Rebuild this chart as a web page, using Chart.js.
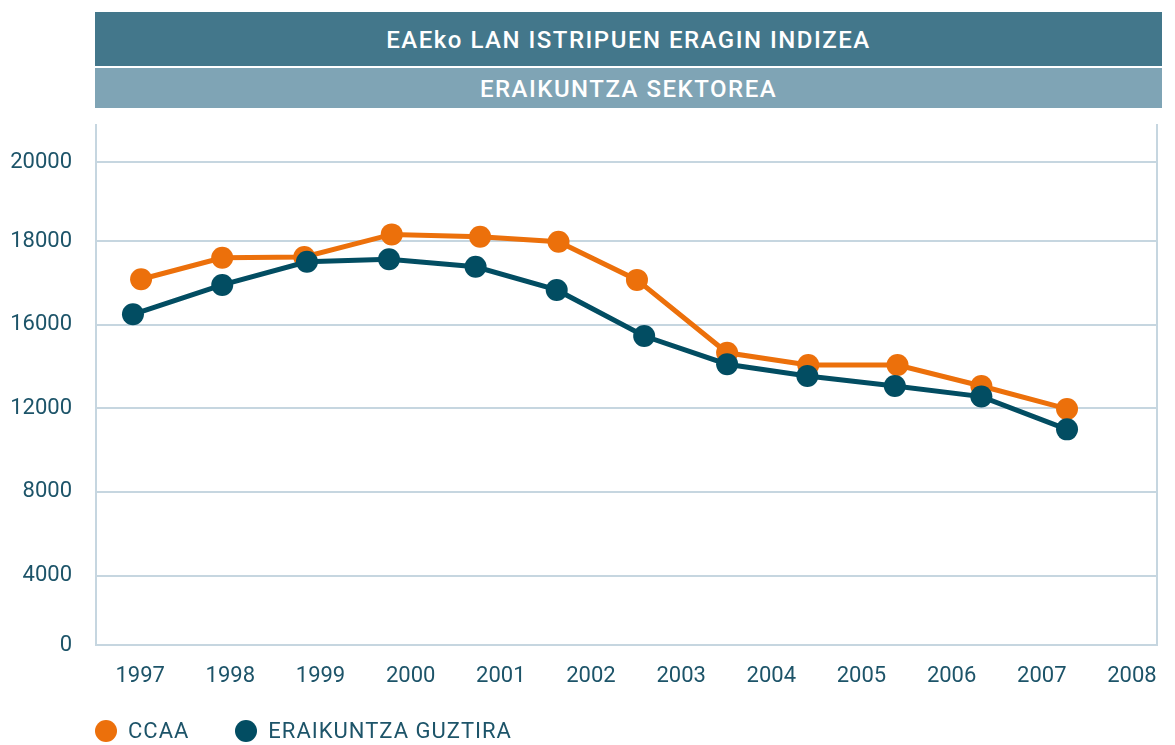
<!DOCTYPE html>
<html>
<head>
<meta charset="utf-8">
<script src="https://cdn.jsdelivr.net/npm/chart.js@4.4.0/dist/chart.umd.min.js"></script>
<style>
  html, body { margin: 0; padding: 0; background: #fff; }
  body { width: 1175px; height: 745px; position: relative; overflow: hidden; font-family: Roboto, sans-serif; }
  #wrap { position: absolute; left: 0; top: 0; width: 1175px; height: 745px; }
  .banner { position: absolute; left: 95px; width: 1067px; color: #fff; text-align: center; font-size: 24px; font-weight: 500; letter-spacing: 1.5px; }
  #title { top: 12px; height: 54px; line-height: 56px; background: #43778b; }
  #subtitle { top: 68px; height: 40px; line-height: 42px; background: #7fa4b5; }
  #legend { position: absolute; left: 95px; top: 718px; display: flex; font-size: 22px; color: #1d5469; letter-spacing: 1px; }
  .item { display: flex; align-items: center; margin-right: 46px; }
  .dot { width: 22px; height: 22px; border-radius: 50%; margin-right: 11px; }
</style>
</head>
<body>
<div id="wrap"><canvas id="chart" width="1175" height="745"></canvas></div>
<div class="banner" id="title">EAEko LAN ISTRIPUEN ERAGIN INDIZEA</div>
<div class="banner" id="subtitle">ERAIKUNTZA SEKTOREA</div>
<div id="legend"></div>
<script>
// Datos
const xLabels = [1997, 1998, 1999, 2000, 2001, 2002, 2003, 2004, 2005, 2006, 2007, 2008];
const yTickValues = [671, 4000, 8000, 12000, 16000, 20000, 23800];
const yTickLabels = ['0', '4000', '8000', '12000', '16000', '18000', '20000'];

const ccaaX = [1997.01, 1997.91, 1998.82, 1999.79, 2000.77, 2001.64, 2002.51, 2003.51, 2004.41, 2005.40, 2006.33, 2007.28];
const ccaaY = [18190, 19220, 19260, 20340, 20230, 19990, 18160, 14670, 14080, 14080, 13080, 11980];

const totalX = [1996.92, 1997.91, 1998.85, 1999.76, 2000.72, 2001.62, 2002.59, 2003.51, 2004.40, 2005.37, 2006.33, 2007.28];
const totalY = [16510, 17920, 19030, 19150, 18790, 17680, 15470, 14120, 13560, 13080, 12570, 11000];

const seriesNames = ['CCAA', 'ERAIKUNTZA GUZTIRA'];
const seriesColors = ['#ec700b', '#024d62'];

const textColor = '#1d5469';
const gridColor = '#c6d6e0';

function toPoints(xs, ys) {
    return xs.map((x, i) => ({ x: x, y: ys[i] }));
}

const chart = new Chart(document.getElementById('chart'), {
    type: 'line',
    data: {
        datasets: [
            {
                label: seriesNames[0],
                data: toPoints(ccaaX, ccaaY),
                borderColor: seriesColors[0],
                backgroundColor: seriesColors[0],
                borderWidth: 5,
                pointRadius: 11,
                pointBorderWidth: 0,
                tension: 0,
                order: 1
            },
            {
                label: seriesNames[1],
                data: toPoints(totalX, totalY),
                borderColor: seriesColors[1],
                backgroundColor: seriesColors[1],
                borderWidth: 5,
                pointRadius: 11,
                pointBorderWidth: 0,
                tension: 0,
                order: 0
            }
        ]
    },
    options: {
        responsive: false,
        animation: false,
        layout: { padding: { top: 125, left: 0, right: 0, bottom: 0 } },
        plugins: {
            legend: { display: false },
            tooltip: { enabled: false }
        },
        scales: {
            x: {
                type: 'linear',
                min: 1996.51,
                max: 2008.28,
                afterBuildTicks: function(scale) {
                    scale.ticks = xLabels.map(v => ({ value: v }));
                },
                afterFit: function(scale) { scale.height = 100; },
                grid: { display: false, drawTicks: false },
                border: { display: true, color: gridColor, width: 2 },
                ticks: {
                    color: textColor,
                    font: { family: 'Roboto', size: 22 },
                    padding: 18,
                    maxRotation: 0,
                    autoSkip: false,
                    callback: function(v) { return String(v); }
                }
            },
            y: {
                type: 'linear',
                min: 671,
                max: 25580,
                afterBuildTicks: function(scale) {
                    scale.ticks = yTickValues.map(v => ({ value: v }));
                },
                afterFit: function(scale) { scale.width = 96; },
                grid: { color: gridColor, lineWidth: 2, drawTicks: false },
                border: { display: true, color: gridColor, width: 2 },
                ticks: {
                    color: textColor,
                    font: { family: 'Roboto', size: 22 },
                    padding: 24,
                    autoSkip: false,
                    callback: function(v) {
                        const i = yTickValues.indexOf(v);
                        return i >= 0 ? yTickLabels[i] : '';
                    }
                }
            },
            y2: {
                type: 'linear',
                position: 'right',
                display: true,
                afterFit: function(scale) { scale.width = 14; },
                grid: { display: false, drawTicks: false },
                border: { display: true, color: gridColor, width: 2 },
                ticks: { display: false }
            }
        }
    }
});

// Leyenda en HTML a partir de los datasets
const legend = document.getElementById('legend');
legend.innerHTML = chart.data.datasets.map(ds => `
    <div class="item"><span class="dot" style="background:${ds.borderColor}"></span><span>${ds.label}</span></div>
`).join('');
</script>
</body>
</html>
